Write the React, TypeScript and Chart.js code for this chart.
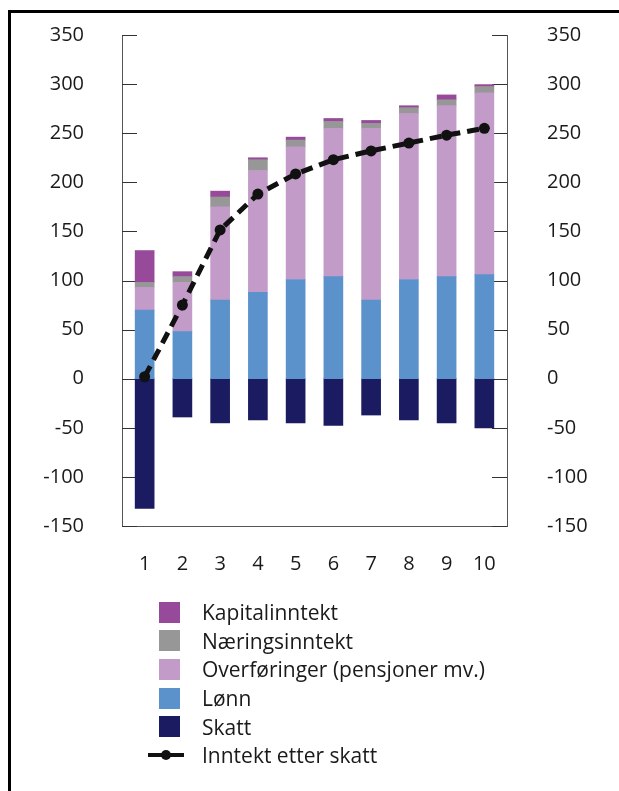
import React, { useEffect, useRef } from "react";
import { Chart, registerables } from "chart.js";

Chart.register(...registerables);

const categories = [1, 2, 3, 4, 5, 6, 7, 8, 9, 10];
const lonn = [70, 48, 80, 88, 101, 104, 80, 101, 104, 106];
const overforinger = [23, 50, 95, 124, 135, 151, 175, 169, 174, 185];
const naeringsinntekt = [5, 6, 10, 11, 7, 7, 5, 6, 6, 6.5];
const kapitalinntekt = [32.5, 5, 6, 2, 3, 3, 3, 2, 5, 2];
const skatt = [-132, -39, -45, -42, -45, -47.5, -37, -42, -45, -50];
const inntektEtterSkatt = [2, 75, 151.5, 188, 208.5, 223, 232, 240, 248, 255];
const yTickValues = [-150, -100, -50, 0, 50, 100, 150, 200, 250, 300, 350];

const seriesNames = {
  kapital: "Kapitalinntekt",
  naering: "Næringsinntekt",
  overf: "Overføringer (pensjoner mv.)",
  lonn: "Lønn",
  skatt: "Skatt",
  line: "Inntekt etter skatt",
};

const colors = {
  kapital: "#974A9A",
  naering: "#979797",
  overf: "#C29BC8",
  lonn: "#5B92CC",
  skatt: "#1A1B60",
  line: "#111111",
};

const FONT = "'Open Sans', 'Noto Sans', sans-serif";
const TEXT = "#1a1a1a";

const inwardTicks = {
  id: "inwardTicks",
  beforeDatasetsDraw(chart: any) {
    const { ctx, chartArea } = chart;
    const y = chart.scales.y;
    ctx.save();
    ctx.strokeStyle = "#333";
    ctx.lineWidth = 1;
    y.ticks.forEach((t: any) => {
      const py = Math.round(y.getPixelForValue(t.value)) + 0.5;
      ctx.beginPath();
      ctx.moveTo(chartArea.left, py);
      ctx.lineTo(chartArea.left + 15, py);
      ctx.moveTo(chartArea.right - 15, py);
      ctx.lineTo(chartArea.right, py);
      ctx.stroke();
    });
    ctx.restore();
  },
};

export default function App() {
  const canvasRef = useRef<HTMLCanvasElement | null>(null);

  useEffect(() => {
    let chart: any = null;
    let cancelled = false;
    const make = () => {
      if (cancelled || !canvasRef.current) return;
      chart = new Chart(canvasRef.current, {
        type: "bar",
        data: {
          labels: categories,
          datasets: [
            {
              type: "line",
              label: seriesNames.line,
              data: inntektEtterSkatt,
              borderColor: colors.line,
              backgroundColor: colors.line,
              borderWidth: 5,
              borderDash: [12, 7],
              pointRadius: 5.5,
              pointBackgroundColor: colors.line,
              pointBorderWidth: 0,
              fill: false,
              tension: 0,
              order: 0,
            } as any,
            { label: seriesNames.lonn, data: lonn, backgroundColor: colors.lonn, order: 1 },
            { label: seriesNames.overf, data: overforinger, backgroundColor: colors.overf, order: 1 },
            { label: seriesNames.naering, data: naeringsinntekt, backgroundColor: colors.naering, order: 1 },
            { label: seriesNames.kapital, data: kapitalinntekt, backgroundColor: colors.kapital, order: 1 },
            { label: seriesNames.skatt, data: skatt, backgroundColor: colors.skatt, order: 1 },
          ],
        },
        options: {
          animation: false,
          responsive: true,
          maintainAspectRatio: false,
          layout: { padding: { top: 27, left: 0, right: 0, bottom: 0 } },
          datasets: { bar: { barThickness: 19, borderWidth: 0 } },
          plugins: { legend: { display: false }, tooltip: { enabled: false } },
          scales: {
            x: {
              type: "linear",
              stacked: true,
              offset: false,
              min: 0.4,
              max: 10.6,
              afterBuildTicks: (s: any) => {
                s.ticks = categories.map((v) => ({ value: v }));
              },
              afterFit: (s: any) => {
                s.height = 62;
                s.paddingLeft = 0;
                s.paddingRight = 0;
              },
              grid: { display: false, drawTicks: false, offset: false },
              border: { display: true, color: "#555", width: 1 },
              ticks: {
                padding: 26,
                color: TEXT,
                font: { family: FONT, size: 20 },
                autoSkip: false,
                maxRotation: 0,
                callback: (v: any) => String(v),
              },
            },
            y: {
              type: "linear",
              position: "left",
              stacked: true,
              min: -150,
              max: 350,
              afterBuildTicks: (s: any) => {
                s.ticks = yTickValues.map((v) => ({ value: v }));
              },
              afterFit: (s: any) => {
                s.width = 114;
                s.paddingTop = 0;
                s.paddingBottom = 0;
              },
              grid: { display: false, drawTicks: false },
              border: { display: true, color: "#555", width: 1 },
              ticks: { padding: 38, color: TEXT, font: { family: FONT, size: 20 } },
            },
            y2: {
              type: "linear",
              position: "right",
              min: -150,
              max: 350,
              afterBuildTicks: (s: any) => {
                s.ticks = yTickValues.map((v) => ({ value: v }));
              },
              afterFit: (s: any) => {
                s.width = 112;
                s.paddingTop = 0;
                s.paddingBottom = 0;
              },
              grid: { display: false, drawTicks: false },
              border: { display: true, color: "#555", width: 1 },
              ticks: { padding: 40, color: TEXT, font: { family: FONT, size: 20 } },
            },
          },
        },
        plugins: [inwardTicks],
      } as any);
    };
    const fonts: any = (document as any).fonts;
    if (fonts && fonts.load) {
      fonts.load("20px 'Open Sans'").then(make, make);
    } else make();
    return () => {
      cancelled = true;
      if (chart) chart.destroy();
    };
  }, []);

  const legendItems = [
    { key: "kapital", label: seriesNames.kapital, color: colors.kapital },
    { key: "naering", label: seriesNames.naering, color: colors.naering },
    { key: "overf", label: seriesNames.overf, color: colors.overf },
    { key: "lonn", label: seriesNames.lonn, color: colors.lonn },
    { key: "skatt", label: seriesNames.skatt, color: colors.skatt },
  ];

  const rowH = 28.6;
  const legendTop = 590;

  return (
    <div style={{ position: "relative", width: 603, height: 770 }}>
      <div
        style={{
          position: "fixed",
          left: 8,
          top: 10,
          width: 800,
          height: 900,
          borderTop: "3px solid #000",
          borderLeft: "3px solid #000",
          boxSizing: "border-box",
        }}
      />
      <div style={{ position: "absolute", left: 0, top: 0, width: 611, height: 580 }}>
        <canvas ref={canvasRef} />
      </div>
      {legendItems.map((it, i) => (
        <div
          key={it.key}
          style={{
            position: "absolute",
            left: 151,
            top: legendTop + i * rowH,
            height: rowH,
            display: "flex",
            alignItems: "center",
            fontFamily: FONT,
            fontSize: 21,
            color: TEXT,
            whiteSpace: "nowrap",
          }}
        >
          <span style={{ display: "inline-block", width: 21, height: 21, background: it.color, marginRight: 22 }} />
          <span>{it.label}</span>
        </div>
      ))}
      <div
        style={{
          position: "absolute",
          left: 140,
          top: legendTop + 5 * rowH,
          height: rowH,
          display: "flex",
          alignItems: "center",
          fontFamily: FONT,
          fontSize: 21,
          color: TEXT,
          whiteSpace: "nowrap",
        }}
      >
        <span style={{ position: "relative", display: "inline-block", width: 36, height: 10, marginRight: 18 }}>
          <span style={{ position: "absolute", left: 0, top: 3, width: 36, height: 4, background: colors.line }} />
          <span
            style={{
              position: "absolute",
              left: 13,
              top: 0,
              width: 10,
              height: 10,
              borderRadius: "50%",
              background: colors.line,
            }}
          />
        </span>
        <span>{seriesNames.line}</span>
      </div>
    </div>
  );
}
